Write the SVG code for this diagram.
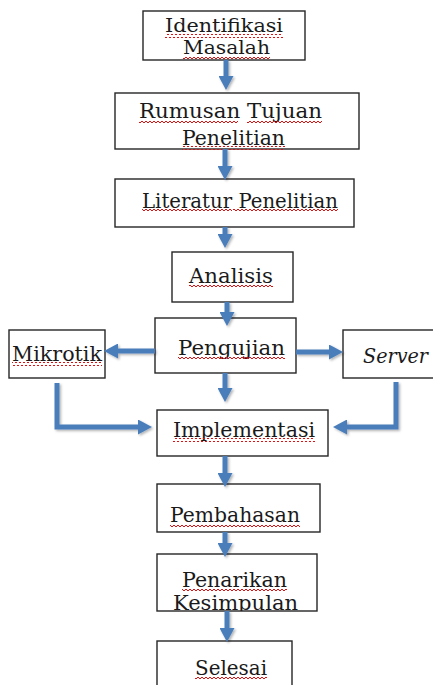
<svg xmlns="http://www.w3.org/2000/svg" width="433" height="685" viewBox="0 0 433 685">
<defs>
<style>
.box{fill:#fff;stroke:#262626;stroke-width:1.4}
.t{font-family:"DejaVu Serif",serif;font-size:20px;fill:#1a1a1a}
.s19{font-size:19px}
.i{font-style:italic}
.c{stroke:#4a7ebb;stroke-width:5;fill:none;stroke-linejoin:miter;marker-end:url(#ah)}
.sq{fill:url(#sq)}
</style>
<marker id="ah" markerUnits="userSpaceOnUse" viewBox="0 0 14 15" markerWidth="14" markerHeight="15" refX="1" refY="7.5" orient="auto">
<path d="M0,0 L14,7.5 L0,15 z" fill="#4a7ebb"/>
</marker>
<pattern id="sq" width="4" height="4" patternUnits="userSpaceOnUse">
<path d="M0,3 L2,1 L4,3" stroke="#e01010" stroke-width="1" fill="none"/>
</pattern>
<filter id="sh" x="-20%" y="-20%" width="140%" height="140%">
<feDropShadow dx="1.5" dy="1.5" stdDeviation="1.2" flood-color="#000" flood-opacity="0.3"/>
</filter>
<clipPath id="clipPen"><rect x="157" y="554" width="160" height="57"/></clipPath>
</defs>

<g id="n-identifikasi">
<rect class="box" x="143" y="11" width="162" height="49"/>
<text class="t s19" x="165" y="32" textLength="118" lengthAdjust="spacingAndGlyphs">Identifikasi</text>
<text class="t s19" x="183" y="54" textLength="87" lengthAdjust="spacingAndGlyphs">Masalah</text>
<rect class="sq" x="165" y="34" width="118" height="4"/>
<rect class="sq" x="183" y="55" width="87" height="4"/>
</g>

<g id="n-rumusan">
<rect class="box" x="115" y="93" width="244" height="56"/>
<text class="t" x="139" y="118" textLength="183" lengthAdjust="spacingAndGlyphs">Rumusan Tujuan</text>
<text class="t" x="182" y="145" textLength="103" lengthAdjust="spacingAndGlyphs">Penelitian</text>
<rect class="sq" x="139" y="119" width="99" height="4"/>
<rect class="sq" x="247" y="119" width="75" height="4"/>
<rect class="sq" x="182" y="146" width="103" height="4"/>
</g>

<g id="n-literatur">
<rect class="box" x="115" y="179" width="239" height="48"/>
<text class="t" x="142" y="208" textLength="196" lengthAdjust="spacingAndGlyphs">Literatur Penelitian</text>
<rect class="sq" x="142" y="209" width="90" height="4"/>
<rect class="sq" x="233" y="209" width="105" height="4"/>
</g>

<g id="n-analisis">
<rect class="box" x="172" y="252" width="121" height="50"/>
<text class="t" x="189" y="283" textLength="84" lengthAdjust="spacingAndGlyphs">Analisis</text>
<rect class="sq" x="189" y="284" width="84" height="4"/>
</g>

<g id="n-pengujian">
<rect class="box" x="155" y="318" width="141" height="55"/>
<text class="t" x="178" y="355" textLength="107" lengthAdjust="spacingAndGlyphs">Pengujian</text>
<rect class="sq" x="178" y="356" width="107" height="4"/>
</g>

<g id="n-mikrotik">
<rect class="box" x="9" y="330" width="96" height="48"/>
<text class="t" x="12" y="361" textLength="90" lengthAdjust="spacingAndGlyphs">Mikrotik</text>
<rect class="sq" x="12" y="362" width="90" height="4"/>
</g>

<g id="n-server">
<rect class="box" x="343" y="330" width="100" height="48"/>
<text class="t i" x="363" y="363" textLength="65" lengthAdjust="spacingAndGlyphs">Server</text>
</g>

<g id="n-implementasi">
<rect class="box" x="157" y="410" width="171" height="46"/>
<text class="t" x="173" y="437" textLength="142" lengthAdjust="spacingAndGlyphs">Implementasi</text>
<rect class="sq" x="173" y="438" width="142" height="4"/>
</g>

<g id="n-pembahasan">
<rect class="box" x="157" y="484" width="163" height="48"/>
<text class="t" x="170" y="522" textLength="130" lengthAdjust="spacingAndGlyphs">Pembahasan</text>
<rect class="sq" x="170" y="523" width="130" height="4"/>
</g>

<g id="n-penarikan">
<rect x="157" y="554" width="160" height="57" fill="#fff"/>
<text class="t" x="182" y="587" textLength="105" lengthAdjust="spacingAndGlyphs">Penarikan</text>
<rect class="sq" x="182" y="588" width="105" height="4"/>
<text class="t" x="173" y="610" textLength="125" lengthAdjust="spacingAndGlyphs" clip-path="url(#clipPen)">Kesimpulan</text>
<rect x="157" y="554" width="160" height="57" fill="none" stroke="#262626" stroke-width="1.4"/>
</g>

<g id="n-selesai">
<rect class="box" x="157" y="641" width="135" height="60"/>
<text class="t" x="195" y="675" textLength="72" lengthAdjust="spacingAndGlyphs">Selesai</text>
<rect class="sq" x="195" y="676" width="72" height="4"/>
</g>

<g id="connectors" filter="url(#sh)">
<path class="c" d="M226,60 V77"/>
<path class="c" d="M225,149 V167"/>
<path class="c" d="M225,227 V235"/>
<path class="c" d="M227,302 V313"/>
<path class="c" d="M155,351 H117"/>
<path class="c" d="M296,352 H330"/>
<path class="c" d="M225,373 V389"/>
<path class="c" d="M57,383 V427 H139"/>
<path class="c" d="M396,382 V427 H346"/>
<path class="c" d="M225,456 V474"/>
<path class="c" d="M225,532 V544"/>
<path class="c" d="M227,611 V629"/>
</g>
</svg>
